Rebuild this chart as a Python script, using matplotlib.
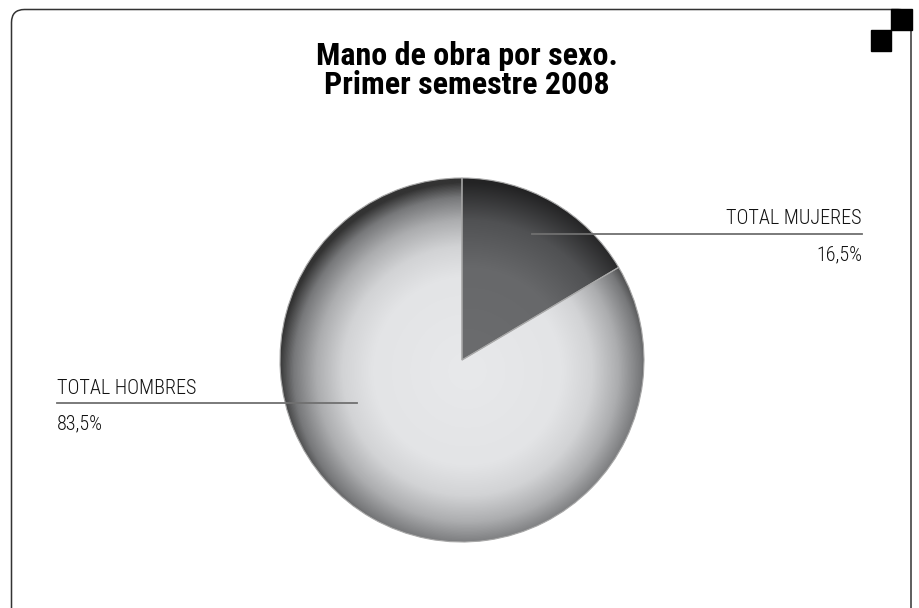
import os
import numpy as np
import matplotlib.pyplot as plt
from matplotlib import font_manager as fm
from matplotlib.colors import LinearSegmentedColormap
from matplotlib.patches import FancyBboxPatch, Rectangle
from matplotlib.lines import Line2D
from matplotlib.transforms import IdentityTransform

labels = ['TOTAL MUJERES', 'TOTAL HOMBRES']
values = [16.5, 83.5]
value_text = ['16,5%', '83,5%']
title_lines = ['Mano de obra por sexo.', 'Primer semestre 2008']


def pick_font(files, fallback):
    have = {os.path.basename(f.fname): f.fname for f in fm.fontManager.ttflist}
    for name in files:
        if name in have:
            return fm.FontProperties(fname=have[name])
    return fm.FontProperties(family='DejaVu Sans', weight=fallback)


title_font = pick_font(['RobotoCondensed-Bold.ttf', 'BarlowCondensed-Bold.ttf',
                        'ArchivoNarrow-Bold.ttf', 'DejaVuSansCondensed-Bold.ttf'], 'bold')
label_font = pick_font(['RobotoCondensed-Light.ttf', 'BarlowCondensed-Light.ttf',
                        'ArchivoNarrow-Regular.ttf', 'DejaVuSansCondensed.ttf'], 'normal')

W, H = 919, 608
fig = plt.figure(figsize=(W / 100, H / 100), dpi=100)
fig.patch.set_facecolor('white')
px = IdentityTransform()

# rounded frame + corner squares (pixel coords, origin bottom-left)
frame = FancyBboxPatch((11.5, -30), 899.5, H - 9.5 + 30,
                       boxstyle='round,pad=0,rounding_size=13',
                       transform=px, fill=False, edgecolor='#333333', linewidth=1.1)
fig.patches.append(frame)
fig.patches.append(Rectangle((891, H - 30), 21, 21, transform=px, color='black'))
fig.patches.append(Rectangle((871, H - 51), 20, 21, transform=px, color='black'))

for line, ybase in zip(title_lines, [65, 94]):
    t = fig.text(467 / W, (H - ybase) / H, line, ha='center', va='baseline',
                 fontproperties=title_font, color='black')
    t.set_fontsize(23)

# pie
cx, cy, R = 462, 360, 182
ax = fig.add_axes([(cx - R) / W, (H - cy - R) / H, 2 * R / W, 2 * R / H])
wedges, _ = ax.pie(values, startangle=90, counterclock=False, radius=1,
                   colors=['#68696b', '#e4e5e7'],
                   wedgeprops=dict(edgecolor='#a8a8a8', linewidth=0.8))
ax.set_xlim(-1, 1)
ax.set_ylim(-1, 1)
ax.set_aspect('equal')
ax.axis('off')

cmaps = [
    LinearSegmentedColormap.from_list('m', [(0, '#6c6d6f'), (0.55, '#67686a'),
                                            (0.8, '#505153'), (1, '#232324')]),
    LinearSegmentedColormap.from_list('h', [(0, '#e8e9eb'), (0.5, '#e3e4e6'),
                                            (0.66, '#d2d3d5'), (0.8, '#acadaf'),
                                            (0.92, '#77787a'), (1, '#333333')]),
]
g = np.linspace(-1, 1, 600)
xx, yy = np.meshgrid(g, g)
rr = np.clip(np.hypot(xx - 0.03, yy + 0.06) / 1.04, 0, 1)
for w, cm in zip(wedges, cmaps):
    im = ax.imshow(rr, cmap=cm, vmin=0, vmax=1, extent=(-1, 1, -1, 1),
                   origin='lower', zorder=w.get_zorder() + 0.1)
    im.set_clip_path(w)
    w.set_zorder(w.get_zorder() + 0.2)
    w.set_facecolor('none')

# labels with leader lines
lc = '#707070'
fig.add_artist(Line2D([532, 862], [H - 233.5] * 2, transform=px, color=lc, lw=1.3))
fig.add_artist(Line2D([57, 357], [H - 402.5] * 2, transform=px, color=lc, lw=1.3))

for txt, x, y, ha in [(labels[0], 862, 224, 'right'), (value_text[0], 862, 260, 'right'),
                      (labels[1], 57, 394, 'left'), (value_text[1], 57, 429, 'left')]:
    t = fig.text(x / W, (H - y) / H, txt, ha=ha, va='baseline',
                 fontproperties=label_font, color='#111111')
    t.set_fontsize(14.5)

fig.savefig('out.png', dpi=100, facecolor='white')
